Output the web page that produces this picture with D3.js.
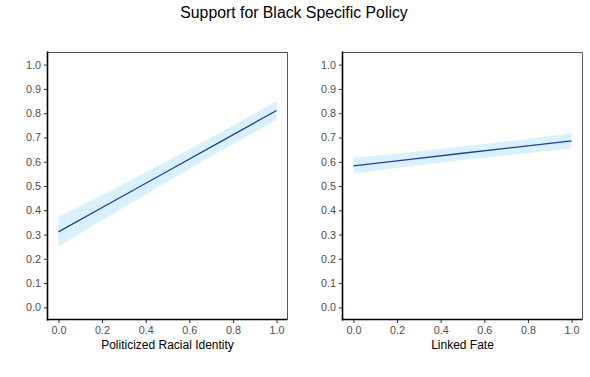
<!DOCTYPE html>
<html><head><meta charset="utf-8">
<script src="https://cdn.jsdelivr.net/npm/d3@7"></script>
<style>body{margin:0;background:#fff;} text{font-family:"Liberation Sans",Arial,sans-serif;}</style>
</head><body><svg id="c" width="590" height="377"></svg>
<script>
const title = "Support for Black Specific Policy";
const xTicks = [0, 0.2, 0.4, 0.6, 0.8, 1.0];
const yTicks = [0, 0.1, 0.2, 0.3, 0.4, 0.5, 0.6, 0.7, 0.8, 0.9, 1.0];
// Panel 1: Politicized Racial Identity
const p1X =     [0,     0.25,  0.5,   0.75,  1];
const p1Fit =   [0.311, 0.436, 0.561, 0.686, 0.811];
const p1Lo =    [0.252, 0.386, 0.518, 0.648, 0.772];
const p1Hi =    [0.372, 0.486, 0.604, 0.724, 0.850];
// Panel 2: Linked Fate
const p2X =     [0,     0.25,  0.5,   0.75,  1];
const p2Fit =   [0.583, 0.609, 0.635, 0.660, 0.686];
const p2Lo =    [0.550, 0.580, 0.607, 0.631, 0.654];
const p2Hi =    [0.616, 0.638, 0.663, 0.689, 0.717];
const panels = [
  {label: "Politicized Racial Identity", x: p1X, fit: p1Fit, lo: p1Lo, hi: p1Hi, left: 47.5, right: 287.5},
  {label: "Linked Fate", x: p2X, fit: p2Fit, lo: p2Lo, hi: p2Hi, left: 342.5, right: 582.5}
];
const svg = d3.select("#c");
svg.append("text").attr("x", 294).attr("y", 18).attr("text-anchor", "middle")
  .attr("font-size", 15.8).attr("fill", "#000").text(title);
const pTop = 52.5, pBottom = 319.5;
panels.forEach(p => {
  const x = d3.scaleLinear().domain([-0.05, 1.05]).range([p.left, p.right]);
  const y = d3.scaleLinear().domain([-0.05, 1.05]).range([pBottom, pTop]);
  const g = svg.append("g");
  const rows = p.x.map((v, i) => ({x: v, fit: p.fit[i], lo: p.lo[i], hi: p.hi[i]}));
  g.append("path").datum(rows)
    .attr("d", d3.area().x(d => x(d.x)).y0(d => y(d.lo)).y1(d => y(d.hi)))
    .attr("fill", "#d9f1ff");
  g.append("path").datum(rows)
    .attr("d", d3.line().x(d => x(d.x)).y(d => y(d.fit)))
    .attr("fill", "none").attr("stroke", "#1f3e96").attr("stroke-width", 1.3);
  g.append("path").attr("d", `M${p.left},${pTop}H${p.right}V${pBottom}`)
    .attr("fill", "none").attr("stroke", "#555").attr("stroke-width", 1);
  const ya = g.append("g").attr("transform", `translate(${p.left},0)`)
    .call(d3.axisLeft(y).tickValues(yTicks).tickFormat(d3.format(".1f")).tickSize(3.5).tickPadding(3));
  const xa = g.append("g").attr("transform", `translate(0,${pBottom})`)
    .call(d3.axisBottom(x).tickValues(xTicks).tickFormat(d3.format(".1f")).tickSize(3.5).tickPadding(3));
  [ya, xa].forEach(a => {
    a.select(".domain").remove();
    a.selectAll(".tick line").attr("stroke", "#333");
    a.selectAll(".tick text").attr("fill", "#4d4d4d").attr("font-size", 10.8)
      .attr("font-family", "Liberation Sans, Arial, sans-serif");
  });
  g.append("line").attr("x1", p.left).attr("x2", p.left).attr("y1", pTop - 1).attr("y2", pBottom + 1)
    .attr("stroke", "#000").attr("stroke-width", 1.6);
  g.append("line").attr("x1", p.left - 0.8).attr("x2", p.right).attr("y1", pBottom).attr("y2", pBottom)
    .attr("stroke", "#000").attr("stroke-width", 1.6);
  g.append("text").attr("x", (p.left + p.right) / 2).attr("y", 349).attr("text-anchor", "middle")
    .attr("font-size", 12).attr("fill", "#000").text(p.label);
});
</script></body></html>
